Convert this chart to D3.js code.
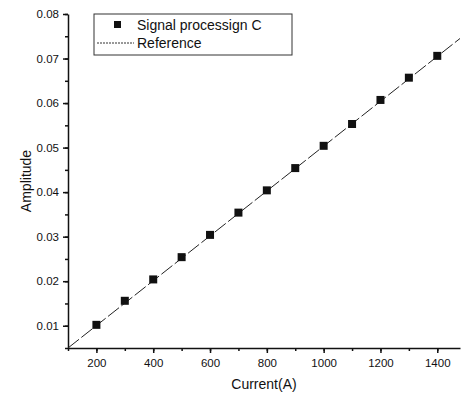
<!DOCTYPE html>
<html>
<head>
<meta charset="utf-8">
<script src="https://cdn.jsdelivr.net/npm/d3@7"></script>
<style>
  body { margin: 0; background: #fff; }
  text { font-family: "Liberation Sans", Arial, sans-serif; fill: #111; }
</style>
</head>
<body>
<div id="chart"></div>
<script>
// data
const currents = [200, 300, 400, 500, 600, 700, 800, 900, 1000, 1100, 1200, 1300, 1400];
const amplitudes = [0.0102, 0.0156, 0.0204, 0.0254, 0.0304, 0.0354, 0.0404, 0.0454, 0.0504, 0.0553, 0.0607, 0.0657, 0.0706];
const refCurrents = [100, 1480];
const refAmplitudes = [0.005, 0.0745];
const xTicks = [200, 400, 600, 800, 1000, 1200, 1400];
const yTicks = [0.01, 0.02, 0.03, 0.04, 0.05, 0.06, 0.07, 0.08];
const seriesNames = ["Signal  processign C", "Reference"];

const width = 463;
const height = 400;
const margin = { left: 68, top: 14, right: 3, bottom: 52 };

const x = d3.scaleLinear().domain([100, 1480]).range([margin.left, width - margin.right]);
const y = d3.scaleLinear().domain([0.005, 0.08]).range([height - margin.bottom, margin.top]);

const svg = d3.select("#chart").append("svg")
  .attr("width", width)
  .attr("height", height);

// minor ticks
svg.append("g")
  .attr("transform", `translate(0, ${height - margin.bottom})`)
  .call(d3.axisBottom(x).tickValues(d3.range(100, 1500, 100)).tickSize(3).tickFormat(""))
  .call(g => g.select(".domain").remove());
svg.append("g")
  .attr("transform", `translate(${margin.left}, 0)`)
  .call(d3.axisLeft(y).tickValues(d3.range(0.005, 0.0801, 0.005)).tickSize(3).tickFormat(""))
  .call(g => g.select(".domain").remove());

// major axes
const xAxis = svg.append("g")
  .attr("transform", `translate(0, ${height - margin.bottom})`)
  .call(d3.axisBottom(x).tickValues(xTicks).tickSize(5).tickSizeOuter(0).tickPadding(6)
    .tickFormat(d3.format("d")));
const yAxis = svg.append("g")
  .attr("transform", `translate(${margin.left}, 0)`)
  .call(d3.axisLeft(y).tickValues(yTicks).tickSize(5).tickSizeOuter(0).tickPadding(4)
    .tickFormat(d3.format(".2f")));

svg.selectAll(".domain, .tick line").attr("stroke", "#111").attr("stroke-width", 1.5);
xAxis.selectAll("text").style("font-size", "11.5px");
yAxis.selectAll("text").style("font-size", "11.5px");

// axis titles
svg.append("text")
  .attr("x", (x(100) + x(1480)) / 2)
  .attr("y", 389)
  .attr("text-anchor", "middle")
  .style("font-size", "14px")
  .text("Current(A)");
svg.append("text")
  .attr("transform", `translate(31, ${y(0.0425)}) rotate(-90)`)
  .attr("text-anchor", "middle")
  .style("font-size", "14px")
  .text("Amplitude");

// reference line
const line = d3.line().x(d => x(d[0])).y(d => y(d[1]));
svg.append("path")
  .attr("d", line(d3.zip(refCurrents, refAmplitudes)))
  .attr("fill", "none")
  .attr("stroke", "#222")
  .attr("stroke-width", 1)
  .attr("stroke-dasharray", "14,3");

// markers
const size = 8;
svg.append("g").selectAll("rect")
  .data(d3.zip(currents, amplitudes))
  .join("rect")
  .attr("x", d => x(d[0]) - size / 2)
  .attr("y", d => y(d[1]) - size / 2)
  .attr("width", size)
  .attr("height", size)
  .attr("fill", "#111");

// legend
const legend = svg.append("g");
legend.append("rect")
  .attr("x", 94).attr("y", 14).attr("width", 198).attr("height", 41)
  .attr("fill", "#fff").attr("stroke", "#333").attr("stroke-width", 1);
legend.append("rect")
  .attr("x", 114).attr("y", 21).attr("width", 7).attr("height", 7).attr("fill", "#111");
legend.append("line")
  .attr("x1", 97).attr("x2", 134).attr("y1", 43).attr("y2", 43)
  .attr("stroke", "#333").attr("stroke-width", 1).attr("stroke-dasharray", "2,1");
legend.selectAll("text.lbl")
  .data(seriesNames)
  .join("text")
  .attr("class", "lbl")
  .attr("x", 137)
  .attr("y", (d, i) => 30 + i * 18)
  .style("font-size", "14px")
  .text(d => d);
</script>
</body>
</html>
